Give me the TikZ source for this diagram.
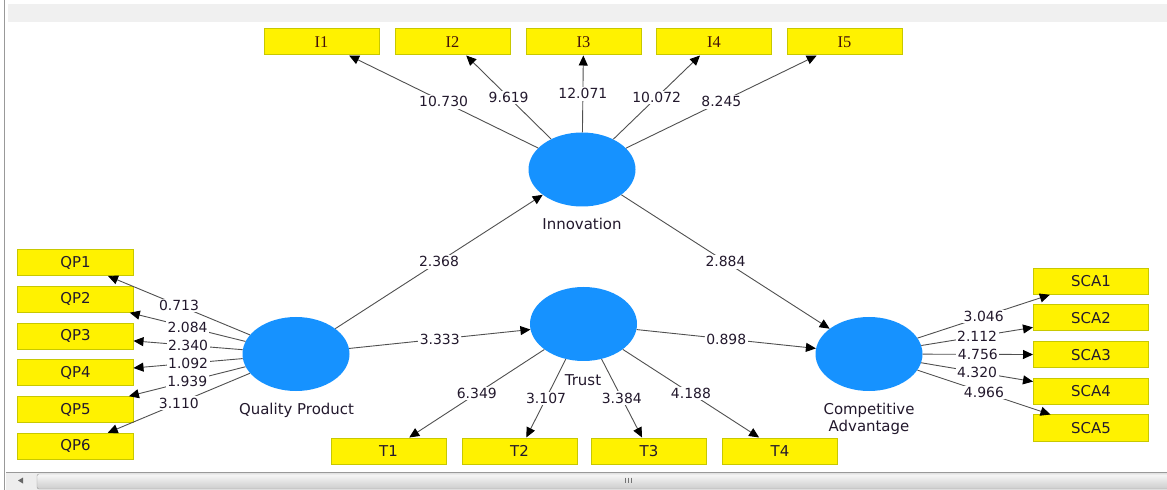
\documentclass[tikz,border=0pt]{standalone}
\usepackage{fontspec}
\usetikzlibrary{shapes.geometric,arrows.meta}
\newfontfamily\dvs{DejaVu Sans}
\newfontfamily\lser{Liberation Serif}
\definecolor{lvblue}{RGB}{22,146,255}
\definecolor{boxborder}{RGB}{200,200,0}
\definecolor{edgegray}{RGB}{80,80,80}
\definecolor{txt}{RGB}{35,25,45}
\begin{document}
\begin{tikzpicture}[x=1bp,y=-1bp,
  lv/.style={ellipse, fill=lvblue, minimum width=107bp, minimum height=74bp, inner sep=0pt},
  mv/.style={rectangle, fill=yellow, draw=boxborder, line width=1bp, minimum width=115bp, minimum height=26bp, inner sep=0pt, font=\dvs\fontsize{15}{17}\selectfont, text=txt},
  mvs/.style={mv, font=\lser\fontsize{16.5}{18}\selectfont, text={rgb,255:red,70;green,20;blue,10}},
  ar/.style={draw=edgegray, line width=0.9bp, -{Triangle[length=10bp,width=9bp,color=black]}},
  val/.style={fill=white, inner sep=1.5bp, font=\dvs\fontsize{14}{16}\selectfont, text=txt, midway},
  lvname/.style={font=\dvs\fontsize{15}{17}\selectfont, text=txt, align=center, inner sep=0pt}
]
\useasboundingbox (0,0) rectangle (1167,490);
\fill[white] (0,0) rectangle (1167,490);
% window decorations
\fill[black!6] (8,4) rectangle (1167,22);
\draw[black!40, line width=1.5bp] (4.5,0) -- (4.5,490);
\fill[black!7] (6,472) rectangle (1167,490);
\draw[black!40, line width=0.8bp] (6,472) -- (1167,472);
\draw[draw=black!40, top color=black!3, bottom color=black!20, rounded corners=2bp] (37,474) rectangle (1172,489);
\fill[black!60] (18,480.5) -- (23,477.5) -- (23,483.5) -- cycle;
\foreach \gx in {625,628,631} \draw[black!55, line width=0.8bp] (\gx,477.5) -- (\gx,483);

% latent variables
\node[lv] (inn) at (582,169.5) {};
\node[lv] (qp) at (296,354) {};
\node[lv] (tr) at (583.5,324) {};
\node[lv] (ca) at (869,354) {};
\node[lvname] (innl) at (582,224) {Innovation};
\node[lvname] (qpl) at (296.5,410) {Quality Product};
\node[lvname] (trl) at (583,380) {Trust};
\node[lvname] (cal) at (869,418.5) {Competitive\\Advantage};

% indicators
\node[mvs] (i1) at (321.5,42) {I1};
\node[mvs] (i2) at (452.5,42) {I2};
\node[mvs] (i3) at (583.5,42) {I3};
\node[mvs] (i4) at (714,42) {I4};
\node[mvs] (i5) at (844.5,42) {I5};

\node[mv] (qp1) at (75.5,262.5) {QP1};
\node[mv] (qp2) at (75.5,299.2) {QP2};
\node[mv] (qp3) at (75.5,336.2) {QP3};
\node[mv] (qp4) at (75.5,373) {QP4};
\node[mv] (qp5) at (75.5,409.7) {QP5};
\node[mv] (qp6) at (75.5,446.3) {QP6};

\node[mv] (t1) at (388.5,451) {T1};
\node[mv] (t2) at (519.5,451) {T2};
\node[mv] (t3) at (649,451) {T3};
\node[mv] (t4) at (780,451) {T4};

\node[mv] (s1) at (1091,281.3) {SCA1};
\node[mv] (s2) at (1091,318) {SCA2};
\node[mv] (s3) at (1091,354.7) {SCA3};
\node[mv] (s4) at (1091,391.3) {SCA4};
\node[mv] (s5) at (1091,428) {SCA5};

% outer loadings
\draw[ar] (inn) -- node[val]{10.730} (i1);
\draw[ar] (inn) -- node[val]{9.619} (i2);
\draw[ar] (inn) -- node[val]{12.071} (i3);
\draw[ar] (inn) -- node[val]{10.072} (i4);
\draw[ar] (inn) -- node[val]{8.245} (i5);

\draw[ar] (qp) -- node[val]{0.713} (qp1);
\draw[ar] (qp) -- node[val]{2.084} (qp2);
\draw[ar] (qp) -- node[val]{2.340} (qp3);
\draw[ar] (qp) -- node[val]{1.092} (qp4);
\draw[ar] (qp) -- node[val]{1.939} (qp5);
\draw[ar] (qp) -- node[val]{3.110} (qp6);

\draw[ar] (tr) -- node[val]{6.349} (t1);
\draw[ar] (tr) -- node[val]{3.107} (t2);
\draw[ar] (tr) -- node[val]{3.384} (t3);
\draw[ar] (tr) -- node[val]{4.188} (t4);

\draw[ar] (ca) -- node[val]{3.046} (s1);
\draw[ar] (ca) -- node[val]{2.112} (s2);
\draw[ar] (ca) -- node[val]{4.756} (s3);
\draw[ar] (ca) -- node[val]{4.320} (s4);
\draw[ar] (ca) -- node[val]{4.966} (s5);

% structural paths
\draw[ar] (qp) -- node[val]{2.368} (inn);
\draw[ar] (qp) -- node[val]{3.333} (tr);
\draw[ar] (tr) -- node[val]{0.898} (ca);
\draw[ar] (inn) -- node[val]{2.884} (ca);
\end{tikzpicture}
\end{document}
